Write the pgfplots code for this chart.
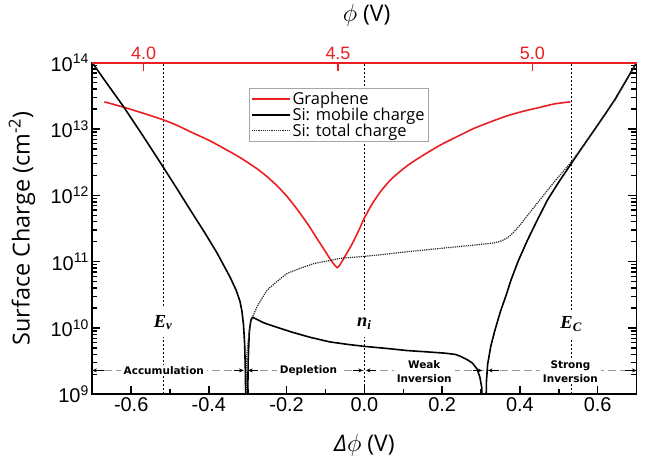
\documentclass[border=0pt]{standalone}
\usepackage{fontspec}
\setmainfont{Liberation Sans}
\newfontfamily\osans{Open Sans}
\newfontfamily\lserif{Liberation Serif}
\newfontfamily\dejavu{DejaVu Sans}
\usepackage{pgfplots}
\usepackage{pgfplotstable}
\pgfplotsset{compat=1.18}
\usetikzlibrary{arrows.meta}
\definecolor{gred}{RGB}{235,30,35}

\pgfplotstableread{
x y
-0.669 13.41
-0.62 13.33
-0.57 13.24
-0.518 13.14
-0.48 13.05
-0.448 12.96
-0.40 12.83
-0.362 12.71
-0.32 12.57
-0.276 12.40
-0.25 12.28
-0.224 12.14
-0.20 11.99
-0.173 11.79
-0.145 11.56
-0.121 11.34
-0.10 11.15
-0.087 11.03
-0.078 10.96
-0.070 10.91
-0.062 10.96
-0.05 11.08
-0.036 11.22
-0.027 11.32
-0.013 11.49
0.0 11.66
0.02 11.87
0.042 12.06
0.07 12.25
0.111 12.45
0.15 12.60
0.196 12.76
0.24 12.89
0.282 13.01
0.33 13.12
0.368 13.20
0.41 13.27
0.454 13.33
0.49 13.38
0.530 13.41
}\graphene

\pgfplotstableread{
x y
-0.70 14.0
-0.67 13.75
-0.62 13.34
-0.57 12.9
-0.518 12.43
-0.48 12.08
-0.448 11.78
-0.41 11.43
-0.379 11.13
-0.345 10.76
-0.33 10.57
-0.32 10.40
-0.315 10.25
-0.311 10.05
-0.308 9.75
-0.306 9.3
-0.304 8.0
-0.302 8.0
-0.299 9.5
-0.296 9.95
-0.292 10.12
-0.288 10.16
-0.28 10.14
-0.26 10.08
-0.23 10.02
-0.188 9.94
-0.14 9.86
-0.089 9.79
-0.04 9.75
0.005 9.72
0.06 9.69
0.109 9.66
0.16 9.64
0.208 9.62
0.235 9.60
0.248 9.57
0.265 9.52
0.278 9.47
0.29 9.38
0.297 9.26
0.302 9.10
0.306 8.0
0.311 8.0
0.314 9.2
0.317 9.45
0.325 9.72
0.335 9.95
0.35 10.25
0.365 10.5
0.377 10.72
0.395 11.0
0.42 11.33
0.445 11.63
0.471 11.93
0.50 12.2
0.530 12.46
0.56 12.72
0.592 12.99
0.62 13.23
0.644 13.44
0.67 13.7
0.70 14.0
}\mobile

\pgfplotstableread{
x y
-0.306 8.0
-0.303 9.5
-0.300 9.75
-0.293 10.07
-0.285 10.2
-0.276 10.32
-0.263 10.45
-0.250 10.57
-0.225 10.7
-0.199 10.82
-0.165 10.9
-0.130 10.97
-0.095 11.01
-0.061 11.05
0.0 11.08
0.05 11.11
0.111 11.15
0.196 11.20
0.282 11.25
0.33 11.28
0.351 11.31
0.368 11.36
0.385 11.45
0.40 11.55
0.42 11.70
0.454 11.95
0.488 12.2
0.523 12.44
0.56 12.72
0.6 13.06
0.65 13.49
0.70 14.0
}\total

\begin{document}
\begin{tikzpicture}
\path[use as bounding box] (-92.3bp,-68.7bp) rectangle (567.7bp,394.3bp);
\begin{axis}[
  at={(0,0)}, anchor=south west,
  scale only axis, width=544.2bp, height=331.6bp,
  xmin=-0.7, xmax=0.7, ymin=9, ymax=14,
  xtick={-0.6,-0.4,-0.2,0,0.2,0.4,0.6},
  xticklabels={-0.6,-0.4,-0.2,0.0,0.2,0.4,0.6},
  minor xtick={-0.5,-0.3,-0.1,0.1,0.3,0.5},
  ytick={9,10,11,12,13,14},
  yticklabels={10\textsuperscript{9},10\textsuperscript{10},10\textsuperscript{11},10\textsuperscript{12},10\textsuperscript{13},10\textsuperscript{14}},
  minor ytick={9.301,9.477,9.602,9.699,9.778,9.845,9.903,9.954,
    10.301,10.477,10.602,10.699,10.778,10.845,10.903,10.954,
    11.301,11.477,11.602,11.699,11.778,11.845,11.903,11.954,
    12.301,12.477,12.602,12.699,12.778,12.845,12.903,12.954,
    13.301,13.477,13.602,13.699,13.778,13.845,13.903,13.954},
  xtick pos=left,
  tick align=inside,
  major tick length=8bp, minor tick length=5bp,
  axis line style={line width=1.6bp},
  tick style={black, line width=1.5bp},
  ticklabel style={font=\fontsize{20}{22}\selectfont},
  xlabel={{\osans\itshape Δ}$\phi$ {\osans(V)}},
  xlabel style={at={(axis description cs:0.5,-0.153)}, anchor=center, font=\osans\fontsize{23}{26}\selectfont},
  ylabel={Surface Charge (cm\textsuperscript{-2})},
  ylabel style={at={(axis description cs:-0.129,0.5)}, anchor=center, font=\osans\fontsize{23.5}{26}\selectfont},
  legend style={at={(axis description cs:0.288,0.924)}, anchor=north west,
    draw=gray!70, line width=0.8bp, font=\osans\fontsize{16.5}{18}\selectfont,
    inner sep=1.5bp, row sep=-2bp, cells={anchor=west}},
  legend image code/.code={\draw[#1] (0bp,0bp) -- (38bp,0bp);},
]
% vertical reference lines
\addplot[black, line width=0.9bp, dash pattern=on 2.5bp off 1.5bp, forget plot] coordinates {(-0.518,9) (-0.518,14)};
\addplot[black, line width=0.9bp, dash pattern=on 2.5bp off 1.5bp, forget plot] coordinates {(0,9) (0,14)};
\addplot[black, line width=0.9bp, dash pattern=on 2.5bp off 1.5bp, forget plot] coordinates {(0.532,9) (0.532,14)};
% region line
\draw[gray!80, line width=0.8bp, dash pattern=on 8bp off 4bp] (axis cs:-0.7,9.36) -- (axis cs:0.7,9.36);
\draw[black, line width=0.8bp, -{Stealth[length=4.5bp,width=4bp]}] (axis cs:-0.67,9.36) -- (axis cs:-0.7,9.36);
\draw[black, line width=0.8bp, -{Stealth[length=4.5bp,width=4bp]}] (axis cs:-0.335,9.36) -- (axis cs:-0.311,9.36);
\draw[black, line width=0.8bp, -{Stealth[length=4.5bp,width=4bp]}] (axis cs:-0.275,9.36) -- (axis cs:-0.299,9.36);
\draw[black, line width=0.8bp, -{Stealth[length=4.5bp,width=4bp]}] (axis cs:-0.03,9.36) -- (axis cs:-0.004,9.36);
\draw[black, line width=0.8bp, -{Stealth[length=4.5bp,width=4bp]}] (axis cs:0.03,9.36) -- (axis cs:0.004,9.36);
\draw[black, line width=0.8bp, -{Stealth[length=4.5bp,width=4bp]}] (axis cs:0.28,9.36) -- (axis cs:0.303,9.36);
\draw[black, line width=0.8bp, -{Stealth[length=4.5bp,width=4bp]}] (axis cs:0.345,9.36) -- (axis cs:0.318,9.36);
\draw[black, line width=0.8bp, -{Stealth[length=4.5bp,width=4bp]}] (axis cs:0.67,9.36) -- (axis cs:0.7,9.36);
\node[fill=white, inner xsep=3bp, inner ysep=1bp, font=\dejavu\bfseries\fontsize{10.5}{13}\selectfont] at (axis cs:-0.516,9.36) {Accumulation};
\node[fill=white, inner xsep=3bp, inner ysep=1bp, font=\dejavu\bfseries\fontsize{10.5}{13}\selectfont] at (axis cs:-0.144,9.36) {Depletion};
\node[fill=white, inner xsep=3bp, inner ysep=1bp, align=center, font=\dejavu\bfseries\fontsize{10.5}{13.5}\selectfont] at (axis cs:0.154,9.34) {Weak\\Inversion};
\node[fill=white, inner xsep=3bp, inner ysep=1bp, align=center, font=\dejavu\bfseries\fontsize{10.5}{13.5}\selectfont] at (axis cs:0.53,9.34) {Strong\\Inversion};
% level labels
\node[fill=white, inner xsep=1bp, inner ysep=7bp, font=\lserif\bfseries\itshape\fontsize{18.5}{19}\selectfont] at (axis cs:-0.518,10.08) {E\textsubscript{v}};
\node[fill=white, inner xsep=1bp, inner ysep=7bp, font=\lserif\bfseries\itshape\fontsize{18.5}{19}\selectfont] at (axis cs:0,10.06) {n\textsubscript{i}};
\node[fill=white, inner xsep=1bp, inner ysep=7bp, font=\lserif\bfseries\itshape\fontsize{18.5}{19}\selectfont] at (axis cs:0.532,10.06) {E\textsubscript{C}};
% data
\addplot[gred, line width=1.6bp, smooth, tension=0.4] table[x=x,y=y] {\graphene};
\addlegendentry{Graphene}
\addplot[black, line width=1.6bp] table[x=x,y=y] {\mobile};
\addlegendentry{Si: mobile charge}
\addplot[black!85, line width=1.2bp, densely dotted, smooth, tension=0.3] table[x=x,y=y] {\total};
\addlegendentry{Si: total charge}
\end{axis}
\begin{axis}[
  at={(0,0)}, anchor=south west,
  scale only axis, width=544.2bp, height=331.6bp,
  xmin=3.868, xmax=5.268, ymin=9, ymax=14,
  axis x line*=top, axis y line=none,
  ytick=\empty,
  xtick={4.0,4.5,5.0},
  xticklabels={4.0,4.5,5.0},
  tick align=inside,
  major tick length=8bp,
  x axis line style={gred, line width=2bp},
  tick style={gred, line width=1.5bp},
  xticklabel style={gred, font=\fontsize{18}{20}\selectfont},
  xlabel={$\phi$ {\osans(V)}},
  xlabel style={at={(axis description cs:0.504,1.144)}, anchor=center, font=\osans\fontsize{23}{26}\selectfont, black},
]
\end{axis}
\end{tikzpicture}
\end{document}
